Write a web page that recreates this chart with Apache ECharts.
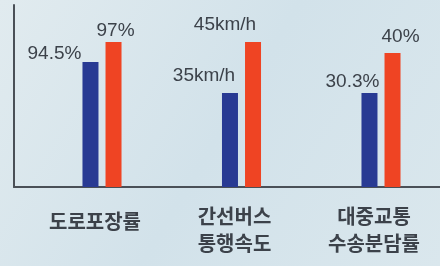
<!DOCTYPE html>
<html>
<head>
<meta charset="utf-8">
<script src="https://cdn.jsdelivr.net/npm/echarts@6/dist/echarts.min.js"></script>
<style>
  html, body { margin: 0; padding: 0; }
  #chart1 { width: 440px; height: 266px; }
</style>
</head>
<body>
<div id="chart1"></div>
<script>
// 항목
var categories = ['도로포장률', '간선버스\n통행속도', '대중교통\n수송분담률'];
// 막대 높이 (그림에서 읽은 상대 높이, 0~100)
var beforeHeight = [68.7, 51.6, 51.6];
var afterHeight = [79.7, 79.7, 73.6];
// 막대 위 표시값
var beforeLabel = ['94.5%', '35km/h', '30.3%'];
var afterLabel = ['97%', '45km/h', '40%'];

function chart() {
  var mychart = echarts.init(document.getElementById('chart1'));

  var numFont = '"Liberation Sans", Arial, sans-serif';
  var textColor = '#3c424a';
  // 라벨 위치 보정 [dx, dy]
  var beforeOffset = [[-36, 6], [-26, -3], [-17, 3]];
  var afterOffset = [[2, 3], [-28, -3], [8, -2]];

  function items(heights, labels, offsets) {
    return heights.map(function (h, i) {
      return {
        value: h,
        label: { formatter: labels[i], offset: offsets[i] }
      };
    });
  }

  var option = {
    backgroundColor: new echarts.graphic.LinearGradient(0, 0, 1, 1, [
      { offset: 0, color: '#e1ebef' },
      { offset: 0.5, color: '#d2e2ea' },
      { offset: 1, color: '#dae7ed' }
    ]),
    animation: false,
    grid: [
      { left: 14, right: 0, top: 5, height: 182 },
      { left: 102, right: 59, top: 5, height: 182 }
    ],
    xAxis: [{
      gridIndex: 0,
      type: 'category',
      data: [''],
      axisLine: { lineStyle: { color: '#4a5057', width: 2 } },
      axisTick: { show: false },
      axisLabel: { show: false }
    }, {
      gridIndex: 1,
      type: 'category',
      boundaryGap: false,
      data: categories,
      axisLine: { show: false },
      axisTick: { show: false },
      axisLabel: {
        interval: 0,
        margin: 16,
        padding: [0, 14, 0, 0],
        color: textColor,
        fontFamily: '"Noto Sans CJK KR", sans-serif',
        fontSize: 20,
        fontWeight: 'bold',
        lineHeight: 27,
        formatter: function (v) {
          if (v.indexOf('\n') < 0) return '{one|' + v + '}';
          return v;
        },
        rich: {
          one: {
            padding: [9, 0, 0, 0],
            color: textColor,
            fontFamily: '"Noto Sans CJK KR", sans-serif',
            fontSize: 20,
            fontWeight: 'bold',
            lineHeight: 27
          }
        }
      }
    }],
    yAxis: [{
      gridIndex: 0,
      type: 'value',
      min: 0,
      max: 1,
      axisLine: { show: true, lineStyle: { color: '#4a5057', width: 2 } },
      axisTick: { show: false },
      axisLabel: { show: false },
      splitLine: { show: false }
    }, {
      gridIndex: 1,
      type: 'value',
      min: 0,
      max: 100,
      show: false
    }],
    series: [{
      name: 'before',
      type: 'bar',
      xAxisIndex: 1,
      yAxisIndex: 1,
      barWidth: 16,
      barGap: '44%',
      itemStyle: { color: '#283a93' },
      label: {
        show: true,
        position: 'top',
        color: textColor,
        fontFamily: numFont,
        fontSize: 19
      },
      data: items(beforeHeight, beforeLabel, beforeOffset)
    }, {
      name: 'after',
      type: 'bar',
      xAxisIndex: 1,
      yAxisIndex: 1,
      barWidth: 16,
      itemStyle: { color: '#ef4423' },
      label: {
        show: true,
        position: 'top',
        color: textColor,
        fontFamily: numFont,
        fontSize: 19
      },
      data: items(afterHeight, afterLabel, afterOffset)
    }]
  };

  mychart.setOption(option);
}
chart();
</script>
</body>
</html>
